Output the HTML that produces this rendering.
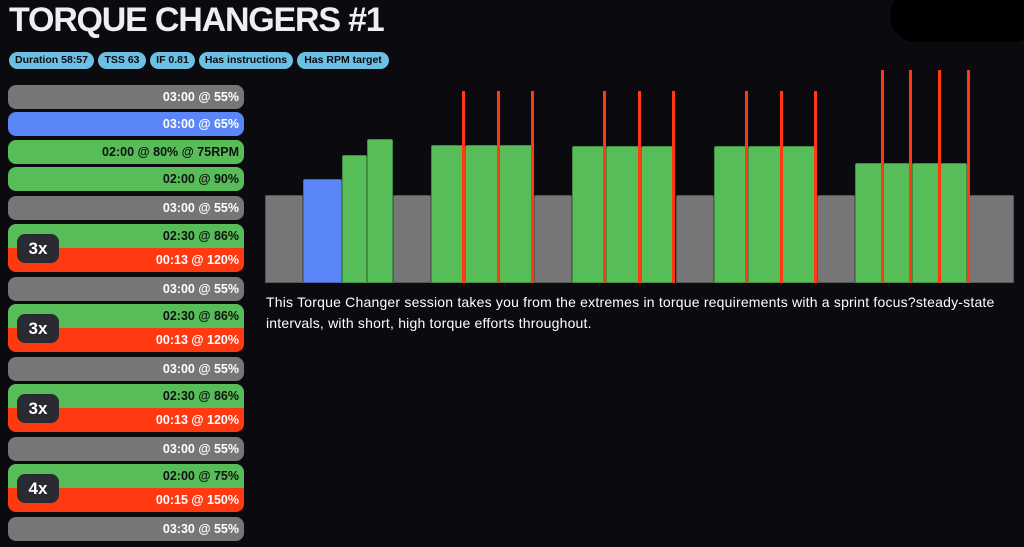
<!DOCTYPE html>
<html><head><style>
*{margin:0;padding:0;box-sizing:border-box}
body{width:1024px;height:547px;background:#0a0a0f;position:relative;overflow:hidden;font-family:"Liberation Sans",sans-serif}
.a{position:absolute}
h1{position:absolute;left:9px;top:1px;font-size:34px;font-weight:bold;color:#eeeef3;letter-spacing:-1.2px}
.bd{position:absolute;top:52px;height:17px;background:#6cc0e4;border-radius:9px;color:#0a0a0f;font-size:10.5px;font-weight:bold;line-height:17px;text-align:center}
.r{position:absolute;left:8px;width:236px;border-radius:8px;overflow:hidden}
.r .t{height:24px;text-align:right;padding-right:5px;font-size:12.5px;font-weight:bold;line-height:24px}
.g{background:#767676;color:#fff}.b{background:#5a86f7;color:#fff}.gr{background:#57bd59;color:#111}.rd{background:#ff3a12;color:#fff}
.r .x{position:absolute;left:9px;top:10px;width:42px;height:29px;background:#2a2a33;border-radius:8px;color:#fff;font-size:17px;font-weight:bold;line-height:29px;text-align:center}
.bar{position:absolute;bottom:264px;border-radius:2px 2px 0 0;border:1px solid rgba(0,0,0,0.25)}
.rl{position:absolute;width:3px;background:#ff3a12;bottom:264px}
p{position:absolute;left:266px;top:292px;color:#fff;font-size:14px;line-height:21px;letter-spacing:0.2px;white-space:nowrap}
</style></head><body>
<div class="a" style="left:890px;top:-10px;width:150px;height:52px;background:#000;border-radius:26px"></div>
<h1>TORQUE CHANGERS #1</h1>
<div class="bd" style="left:9px;width:85px">Duration 58:57</div>
<div class="bd" style="left:98px;width:48px">TSS 63</div>
<div class="bd" style="left:150px;width:45px">IF 0.81</div>
<div class="bd" style="left:199px;width:94px">Has instructions</div>
<div class="bd" style="left:297px;width:92px">Has RPM target</div>

<div class="r" style="top:85px"><div class="t g">03:00 @ 55%</div></div>
<div class="r" style="top:112px"><div class="t b">03:00 @ 65%</div></div>
<div class="r" style="top:140px"><div class="t gr">02:00 @ 80% @ 75RPM</div></div>
<div class="r" style="top:167px"><div class="t gr">02:00 @ 90%</div></div>
<div class="r" style="top:196px"><div class="t g">03:00 @ 55%</div></div>
<div class="r" style="top:224px"><div class="t gr">02:30 @ 86%</div><div class="t rd">00:13 @ 120%</div><div class="x">3x</div></div>
<div class="r" style="top:277px"><div class="t g">03:00 @ 55%</div></div>
<div class="r" style="top:304px"><div class="t gr">02:30 @ 86%</div><div class="t rd">00:13 @ 120%</div><div class="x">3x</div></div>
<div class="r" style="top:357px"><div class="t g">03:00 @ 55%</div></div>
<div class="r" style="top:384px"><div class="t gr">02:30 @ 86%</div><div class="t rd">00:13 @ 120%</div><div class="x">3x</div></div>
<div class="r" style="top:437px"><div class="t g">03:00 @ 55%</div></div>
<div class="r" style="top:464px"><div class="t gr">02:00 @ 75%</div><div class="t rd">00:15 @ 150%</div><div class="x">4x</div></div>
<div class="r" style="top:517px"><div class="t g">03:30 @ 55%</div></div>

<div class="bar g" style="left:265px;width:38px;height:88px"></div>
<div class="bar b" style="left:303px;width:39px;height:104px"></div>
<div class="bar gr" style="left:342px;width:25px;height:128px"></div>
<div class="bar gr" style="left:367px;width:26px;height:144px"></div>
<div class="bar g" style="left:393px;width:38px;height:88px"></div>
<div class="bar gr" style="left:431px;width:34px;height:138px"></div>
<div class="bar gr" style="left:465px;width:34px;height:138px"></div>
<div class="bar gr" style="left:499px;width:34px;height:138px"></div>
<div class="bar g" style="left:534px;width:38px;height:88px"></div>
<div class="bar gr" style="left:572px;width:34px;height:137px"></div>
<div class="bar gr" style="left:606px;width:35px;height:137px"></div>
<div class="bar gr" style="left:641px;width:34px;height:137px"></div>
<div class="bar g" style="left:676px;width:38px;height:88px"></div>
<div class="bar gr" style="left:714px;width:34px;height:137px"></div>
<div class="bar gr" style="left:748px;width:34px;height:137px"></div>
<div class="bar gr" style="left:782px;width:34px;height:137px"></div>
<div class="bar g" style="left:817px;width:38px;height:88px"></div>
<div class="bar gr" style="left:855px;width:28px;height:120px"></div>
<div class="bar gr" style="left:883px;width:29px;height:120px"></div>
<div class="bar gr" style="left:912px;width:28px;height:120px"></div>
<div class="bar gr" style="left:940px;width:27px;height:120px"></div>
<div class="bar g" style="left:969px;width:45px;height:88px"></div>

<div class="rl" style="left:462px;height:192px"></div>
<div class="rl" style="left:497px;height:192px"></div>
<div class="rl" style="left:531px;height:192px"></div>
<div class="rl" style="left:603px;height:192px"></div>
<div class="rl" style="left:638px;height:192px"></div>
<div class="rl" style="left:672px;height:192px"></div>
<div class="rl" style="left:745px;height:192px"></div>
<div class="rl" style="left:780px;height:192px"></div>
<div class="rl" style="left:814px;height:192px"></div>
<div class="rl" style="left:881px;height:213px"></div>
<div class="rl" style="left:909px;height:213px"></div>
<div class="rl" style="left:938px;height:213px"></div>
<div class="rl" style="left:967px;height:213px"></div>

<p>This Torque Changer session takes you from the extremes in torque requirements with a sprint focus?steady-state<br>intervals, with short, high torque efforts throughout.</p>
</body></html>
